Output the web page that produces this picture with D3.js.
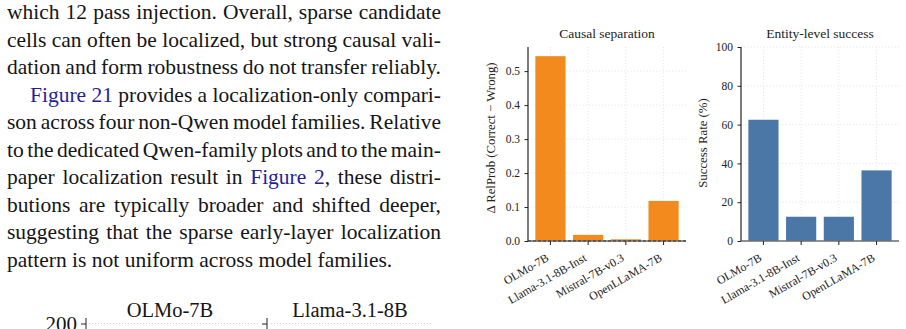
<!DOCTYPE html>
<html>
<head>
<meta charset="utf-8">
<script src="https://cdn.jsdelivr.net/npm/d3@7"></script>
<style>
  body { margin: 0; background: #fff; overflow: hidden; }
  svg { display: block; font-family: "Liberation Serif", "Times New Roman", serif; }
</style>
</head>
<body>
<svg id="page" width="906" height="329"></svg>
<script>
// ---- data ----
const models = ["OLMo-7B", "Llama-3.1-8B-Inst", "Mistral-7B-v0.3", "OpenLLaMA-7B"];
const deltaRelProb = [0.544, 0.018, 0.005, 0.118];
const successRate = [62.5, 12.5, 12.5, 36.4];
const deltaTicks = [0, 0.1, 0.2, 0.3, 0.4, 0.5];
const successTicks = [0, 20, 40, 60, 80, 100];

// body text left of the figure (one entry per printed line)
const bodyLines = [
  {parts: [["which 12 pass injection. Overall, sparse candidate"]], justify: true},
  {parts: [["cells can often be localized, but strong causal vali-"]], justify: true},
  {parts: [["dation and form robustness do not transfer reliably."]], justify: true},
  {parts: [["Figure 21", true], [" provides a localization-only compari-"]], justify: true, indent: true},
  {parts: [["son across four non-Qwen model families. Relative"]], justify: true},
  {parts: [["to the dedicated Qwen-family plots and to the main-"]], justify: true},
  {parts: [["paper localization result in "], ["Figure 2", true], [", these distri-"]], justify: true},
  {parts: [["butions are typically broader and shifted deeper,"]], justify: true},
  {parts: [["suggesting that the sparse early-layer localization"]], justify: true},
  {parts: [["pattern is not uniform across model families."]], justify: false}
];
const nextFigTitles = ["OLMo-7B", "Llama-3.1-8B"];

const svg = d3.select("#page");

// ---- text column ----
const textLeft = 7, textRight = 441, lineH = 27.5, firstBase = 19.2, bodySize = 21.5;

// split a line into words, each word a list of [text, isLink] pieces
function wordsOf(parts) {
  const words = [[]];
  parts.forEach(([txt, link]) => {
    txt.split(/( )/).forEach(tok => {
      if (tok === " ") words.push([]);
      else if (tok) words[words.length - 1].push([tok, link]);
    });
  });
  return words.filter(w => w.length);
}

bodyLines.forEach((ln, i) => {
  const x0 = ln.indent ? 30 : textLeft;
  const yb = firstBase + i * lineH;
  const words = wordsOf(ln.parts);
  // a hyphen that ends the line is drawn as its own piece
  const last = words[words.length - 1];
  const lastPiece = last[last.length - 1];
  let hyph = false;
  if (lastPiece[0].endsWith("-")) {
    lastPiece[0] = lastPiece[0].slice(0, -1);
    hyph = true;
  }
  const nodes = words.map(w => {
    const t = svg.append("text").attr("y", yb)
      .attr("font-size", bodySize + "px").attr("fill", "#151515");
    w.forEach(p => t.append("tspan").text(p[0]).attr("fill", p[1] ? "#1f1f96" : null));
    return t;
  });
  let hNode = null, hW = 0;
  if (hyph) {
    hNode = svg.append("text").attr("y", yb)
      .attr("font-size", bodySize + "px").attr("fill", "#151515").text("\u2010");
    hW = hNode.node().getComputedTextLength();
  }
  const widths = nodes.map(t => t.node().getComputedTextLength());
  const total = d3.sum(widths) + hW;
  const gap = ln.justify ? (textRight - x0 - total) / (words.length - 1) : bodySize * 0.25;
  let cx = x0;
  nodes.forEach((t, k) => { t.attr("x", cx); cx += widths[k] + gap; });
  if (hNode) hNode.attr("x", cx - gap);
});

// ---- partial next figure at the bottom ----
const nf = [{axisX: 86, gx0: 89, gx1: 260, title: 170},
            {axisX: 267, gx0: 271, gx1: 431, title: 350}];
nf.forEach((p, i) => {
  const yn = d3.scaleLinear().domain([0, 200]).range([600, 323.5]);
  svg.append("text")
    .attr("x", p.title).attr("y", 316.5)
    .attr("text-anchor", "middle")
    .attr("font-size", "20.5px").attr("fill", "#151515")
    .text(nextFigTitles[i]);
  svg.append("line")
    .attr("x1", p.gx0).attr("x2", p.gx1)
    .attr("y1", yn(200)).attr("y2", yn(200))
    .attr("stroke", "#cfcfcf").attr("stroke-dasharray", "1,2");
  const ax = svg.append("g")
    .attr("transform", `translate(${p.axisX},0)`)
    .call(d3.axisLeft(yn).tickValues([200]).tickSize(5).tickPadding(4)
      .tickFormat(i === 0 ? d3.format("d") : () => ""));
  ax.select(".domain").remove();
  ax.append("line").attr("x1", 0).attr("x2", 0).attr("y1", 318).attr("y2", 335)
    .attr("stroke", "#222");
  ax.selectAll("line").attr("stroke", "#222");
  ax.selectAll("text").attr("font-size", "21px").attr("fill", "#151515")
    .attr("font-family", "Liberation Serif, serif");
});

// ---- bar panels ----
function panel(o) {
  const g = svg.append("g");
  const x = d3.scaleBand().domain(models).range([o.x0, o.x1])
    .paddingInner(0.2).paddingOuter(0.195);
  const y = d3.scaleLinear().domain(o.domain).range([241, 47]);

  // grid
  g.selectAll(".hg").data(o.ticks).enter().append("line")
    .attr("x1", o.x0).attr("x2", o.x1)
    .attr("y1", d => y(d)).attr("y2", d => y(d))
    .attr("stroke", "#dcdcdc").attr("stroke-width", 0.8)
    .attr("stroke-dasharray", "1,2.2");
  g.selectAll(".vg").data(models).enter().append("line")
    .attr("x1", d => x(d) + x.bandwidth() / 2).attr("x2", d => x(d) + x.bandwidth() / 2)
    .attr("y1", 47).attr("y2", 241)
    .attr("stroke", "#dcdcdc").attr("stroke-width", 0.8)
    .attr("stroke-dasharray", "1,2.2");

  // bars
  g.selectAll("rect").data(o.values).enter().append("rect")
    .attr("x", (d, i) => x(models[i]))
    .attr("y", d => y(d))
    .attr("width", x.bandwidth())
    .attr("height", d => y(0) - y(d))
    .attr("fill", o.color);

  // bottom spine + zero line
  g.append("line").attr("x1", o.x0).attr("x2", o.x1)
    .attr("y1", y(0)).attr("y2", y(0))
    .attr("stroke", "#6e6e6e").attr("stroke-width", 1.4);
  if (o.dashed) {
    g.append("line").attr("x1", o.x0).attr("x2", o.x1)
      .attr("y1", y(0)).attr("y2", y(0))
      .attr("stroke", "#333").attr("stroke-width", 1)
      .attr("stroke-dasharray", "3,2");
  }

  // y axis
  const ya = g.append("g").attr("transform", `translate(${o.x0},0)`)
    .call(d3.axisLeft(y).tickValues(o.ticks).tickSize(3.5).tickPadding(4.5)
      .tickFormat(o.fmt));
  ya.select(".domain").attr("stroke", "#222").attr("stroke-width", 1.2)
    .attr("d", `M0,${y(0)}V47`);
  ya.selectAll(".tick line").attr("stroke", "#222");
  ya.selectAll("text").attr("font-size", "11.5px").attr("fill", "#222")
    .attr("font-family", "Liberation Serif, serif");

  // x ticks + rotated labels
  const xa = g.append("g").attr("transform", `translate(0,${y(0)})`)
    .call(d3.axisBottom(x).tickSize(4).tickFormat(""));
  xa.select(".domain").remove();
  xa.selectAll(".tick line").attr("stroke", "#222");
  g.selectAll(".xl").data(models).enter().append("text")
    .attr("transform", d => `translate(${x(d) + x.bandwidth() / 2 - 5},253) rotate(-30)`)
    .attr("dy", "0.7em")
    .attr("text-anchor", "end")
    .attr("font-size", "11.8px").attr("fill", "#222")
    .text(d => d);

  // title and y label
  g.append("text").attr("x", (o.x0 + o.x1) / 2).attr("y", 38)
    .attr("text-anchor", "middle").attr("font-size", "13.5px").attr("fill", "#222")
    .text(o.title);
  g.append("text")
    .attr("transform", `translate(${o.labelX},${o.labelY}) rotate(-90)`)
    .attr("text-anchor", "middle").attr("font-size", "12.8px").attr("fill", "#222")
    .text(o.ylabel);
}

panel({x0: 528, x1: 686, domain: [0, 0.571], values: deltaRelProb, ticks: deltaTicks,
  fmt: d3.format(".1f"), color: "#f28a1e", dashed: true,
  title: "Causal separation", ylabel: "\u0394 RelProb (Correct \u2212 Wrong)", labelX: 495, labelY: 138});
panel({x0: 741, x1: 899, domain: [0, 100], values: successRate, ticks: successTicks,
  fmt: d3.format("d"), color: "#4b77a7", dashed: false,
  title: "Entity-level success", ylabel: "Success Rate (%)", labelX: 707, labelY: 143});
</script>
</body>
</html>
